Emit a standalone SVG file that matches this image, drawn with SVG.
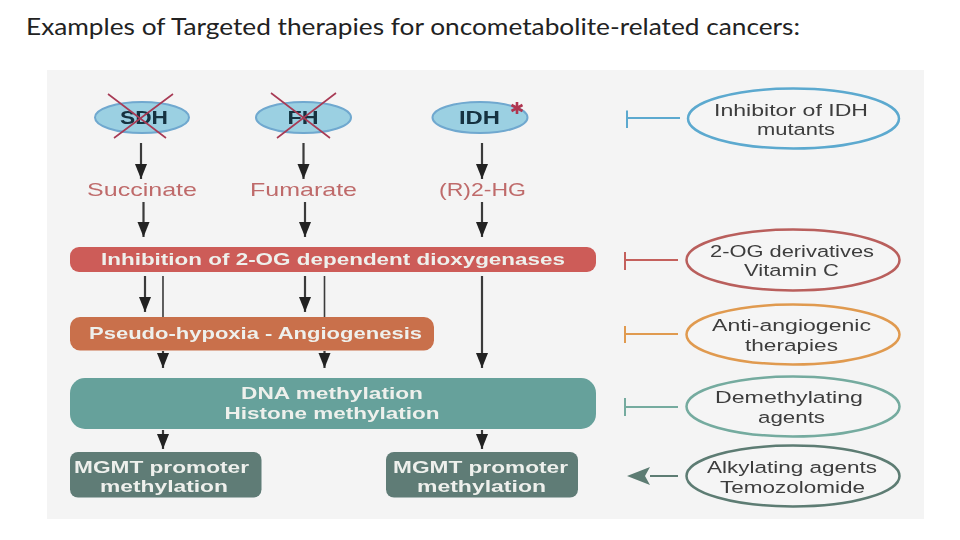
<svg xmlns="http://www.w3.org/2000/svg" width="960" height="540" viewBox="0 0 960 540">
<style>
text{font-family:"Liberation Sans",Arimo,sans-serif;text-anchor:middle}
.title{font-family:Lato,"Liberation Sans",sans-serif;font-size:24px;fill:#222;text-anchor:start}
.enz{fill:#9bd0e2;stroke:#6fa8cf;stroke-width:2}
.enzt{font-size:19px;font-weight:700;fill:#12303f}
.x{stroke:#a83a55;stroke-width:1.6;fill:none}
.met{font-size:18.500px;fill:#bf6b6b}
.bar{font-size:16.500px;font-weight:700;fill:#eef0ec}
.side{font-size:16.800px;fill:#3d3d3d}
.a{stroke:#3a3a3a;stroke-width:2.2;fill:none;marker-end:url(#ah)}
.l{stroke:#3a3a3a;stroke-width:1.6;fill:none}
.o{fill:#f5f5f5;stroke-width:2.500}
</style>
<defs>
<marker id="ah" markerUnits="userSpaceOnUse" markerWidth="16" markerHeight="14" refX="15" refY="7" orient="auto"><path d="M0 1L15 7L0 13Z" fill="#222"/></marker>
<filter id="soft" x="-2%" y="-2%" width="104%" height="104%"><feGaussianBlur stdDeviation="0.45"/></filter>
</defs>
<rect width="960" height="540" fill="#fff"/>
<text class="title" x="26" y="35" textLength="774" lengthAdjust="spacingAndGlyphs">Examples of Targeted therapies for oncometabolite-related cancers:</text>
<rect x="47" y="70" width="877" height="449" fill="#f4f4f4"/>
<g filter="url(#soft)">
<g id="connectors">
<path class="a" d="M141 143V179"/>
<path class="a" d="M143.500 202V237"/>
<path class="a" d="M303.500 143V179"/>
<path class="a" d="M305 202V237"/>
<path class="a" d="M482 143V179"/>
<path class="a" d="M482 202V237"/>
<path class="a" d="M145 276V312"/>
<path class="l" d="M163 276V318"/>
<path class="a" d="M305 276V312"/>
<path class="l" d="M324.500 276V318"/>
<path class="a" d="M163 351V368"/>
<path class="a" d="M324.500 351V368"/>
<path class="a" d="M482 276V368"/>
<path class="a" d="M163 430V449"/>
<path class="a" d="M482 430V449"/>
<path d="M627 110.500V128M627 118H680" fill="none" stroke="#5ba9cf" stroke-width="2"/>
<path d="M625 252V270M625 260H678" fill="none" stroke="#c4605c" stroke-width="2"/>
<path d="M625 326V343M625 334H678" fill="none" stroke="#e09a50" stroke-width="2"/>
<path d="M625 398V416M625 407H678" fill="none" stroke="#74ab9f" stroke-width="2"/>
<path d="M650 476H678" fill="none" stroke="#5d7c73" stroke-width="2"/>
<path d="M627 476L650 467L645 476L650 485Z" fill="#5d7c73"/>
</g>
<g id="node-sdh"><ellipse class="enz" cx="142" cy="117.500" rx="47" ry="15.500"/><text class="enzt" x="144" y="124" textLength="48" lengthAdjust="spacingAndGlyphs">SDH</text><path class="x" d="M108 94L166 138M173 94L114 138"/></g>
<g id="node-fh"><ellipse class="enz" cx="303.500" cy="117.500" rx="47.500" ry="15.500"/><text class="enzt" x="303" y="124" textLength="31" lengthAdjust="spacingAndGlyphs">FH</text><path class="x" d="M271 93L330 138M336 93L277 138"/></g>
<g id="node-idh"><ellipse class="enz" cx="480" cy="117.500" rx="47.500" ry="15.500"/><text class="enzt" x="479.500" y="124" textLength="41" lengthAdjust="spacingAndGlyphs">IDH</text><path d="M517 102V114M511.500 105L522.500 111M522.500 105L511.500 111" stroke="#b0344f" stroke-width="2.600" fill="none"/></g>
<g id="node-succinate"><text class="met" x="142" y="196" textLength="110" lengthAdjust="spacingAndGlyphs">Succinate</text></g>
<g id="node-fumarate"><text class="met" x="303.500" y="196" textLength="107" lengthAdjust="spacingAndGlyphs">Fumarate</text></g>
<g id="node-2hg"><text class="met" x="482.500" y="196" textLength="87" lengthAdjust="spacingAndGlyphs">(R)2-HG</text></g>
<g id="node-inhibition"><rect x="70" y="247" width="526" height="25" rx="9" fill="#cd5c58"/><text class="bar" x="333" y="264.500" textLength="464" lengthAdjust="spacingAndGlyphs">Inhibition of 2-OG dependent dioxygenases</text></g>
<g id="node-pseudo"><rect x="70" y="317" width="364" height="33.500" rx="10" fill="#c9704b"/><text class="bar" x="255.500" y="338.500" textLength="333" lengthAdjust="spacingAndGlyphs">Pseudo-hypoxia - Angiogenesis</text></g>
<g id="node-dna"><rect x="70" y="378" width="526" height="51" rx="15" fill="#66a19b"/><text class="bar" x="332" y="399" textLength="182" lengthAdjust="spacingAndGlyphs">DNA methylation</text><text class="bar" x="332" y="418.500" textLength="215" lengthAdjust="spacingAndGlyphs">Histone methylation</text></g>
<g id="node-mgmt1"><rect x="70" y="452" width="191.500" height="45.500" rx="8" fill="#5f7b76"/><text class="bar" x="161.500" y="472.500" textLength="175" lengthAdjust="spacingAndGlyphs">MGMT promoter</text><text class="bar" x="164" y="492" textLength="128" lengthAdjust="spacingAndGlyphs">methylation</text></g>
<g id="node-mgmt2"><rect x="386" y="452" width="192" height="45.500" rx="8" fill="#5f7b76"/><text class="bar" x="480.500" y="472.500" textLength="175" lengthAdjust="spacingAndGlyphs">MGMT promoter</text><text class="bar" x="481.500" y="492" textLength="129" lengthAdjust="spacingAndGlyphs">methylation</text></g>
<g id="node-idh-inh"><ellipse class="o" cx="793.500" cy="118.500" rx="105.500" ry="30" stroke="#5ba9cf"/><text class="side" x="791" y="115.500" textLength="154" lengthAdjust="spacingAndGlyphs">Inhibitor of IDH</text><text class="side" x="796" y="135" textLength="78" lengthAdjust="spacingAndGlyphs">mutants</text></g>
<g id="node-2og"><ellipse class="o" cx="793" cy="260" rx="106.500" ry="30.500" stroke="#b95e5c"/><text class="side" x="792" y="256.500" textLength="164" lengthAdjust="spacingAndGlyphs">2-OG derivatives</text><text class="side" x="791.500" y="276" textLength="95" lengthAdjust="spacingAndGlyphs">Vitamin C</text></g>
<g id="node-anti"><ellipse class="o" cx="793" cy="334.500" rx="106.500" ry="30" stroke="#e09a50"/><text class="side" x="791.500" y="331" textLength="159" lengthAdjust="spacingAndGlyphs">Anti-angiogenic</text><text class="side" x="791.500" y="350.500" textLength="93" lengthAdjust="spacingAndGlyphs">therapies</text></g>
<g id="node-demeth"><ellipse class="o" cx="793" cy="406.500" rx="106.500" ry="30" stroke="#74ab9f"/><text class="side" x="789" y="403" textLength="148" lengthAdjust="spacingAndGlyphs">Demethylating</text><text class="side" x="791.500" y="423" textLength="67" lengthAdjust="spacingAndGlyphs">agents</text></g>
<g id="node-alk"><ellipse class="o" cx="793" cy="476" rx="106.500" ry="30.500" stroke="#5d7c73"/><text class="side" x="792" y="473" textLength="170" lengthAdjust="spacingAndGlyphs">Alkylating agents</text><text class="side" x="792.500" y="492.500" textLength="145" lengthAdjust="spacingAndGlyphs">Temozolomide</text></g>
</g>
</svg>
